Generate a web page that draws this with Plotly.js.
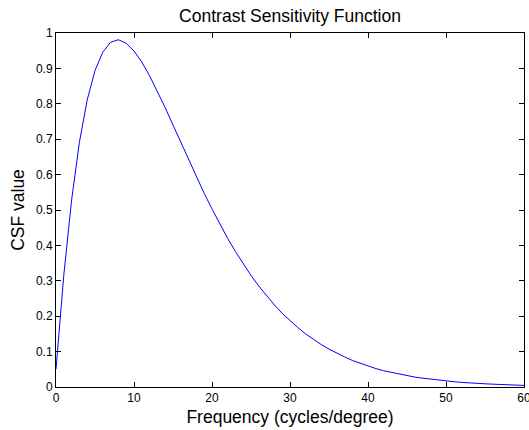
<!DOCTYPE html>
<html>
<head>
<meta charset="utf-8">
<script src="https://cdn.plot.ly/plotly-3.0.1.min.js"></script>
<style>html,body{margin:0;padding:0;background:#fff;}#chart{width:529px;height:430px;}</style>
</head>
<body>
<div id="chart"></div>
<script>
// Frequency samples (cycles/degree)
var frequency = [0,1,2,3,4,5,6,7,8,9,10,11,12,13,14,15,16,17,18,19,20,
  21,22,23,24,25,26,27,28,29,30,31,32,33,34,35,36,37,38,39,40,
  41,42,43,44,45,46,47,48,49,50,51,52,53,54,55,56,57,58,59,60];
// CSF values
var csfValue = [0.050,0.316,0.528,0.691,0.811,0.894,0.946,0.974,0.981,0.971,0.949,
  0.918,0.879,0.836,0.789,0.740,0.691,0.642,0.594,0.547,0.503,
  0.460,0.420,0.383,0.348,0.315,0.285,0.257,0.232,0.208,0.187,
  0.168,0.150,0.134,0.120,0.107,0.095,0.085,0.075,0.067,0.059,
  0.052,0.046,0.041,0.036,0.032,0.028,0.025,0.022,0.019,0.017,
  0.015,0.013,0.011,0.010,0.009,0.008,0.007,0.006,0.005,0.0045];
var xTicks = [0,10,20,30,40,50,60];
var yTicks = [0,0.1,0.2,0.3,0.4,0.5,0.6,0.7,0.8,0.9,1];
var yTickText = ['0','0.1','0.2','0.3','0.4','0.5','0.6','0.7','0.8','0.9','1'];

var fontFam = 'Liberation Sans, Arial, Helvetica, sans-serif';
var trace = {
  x: frequency, y: csfValue, type: 'scatter', mode: 'lines',
  line: {color: '#0000ff', width: 1}, hoverinfo: 'skip'
};
var axisCommon = {
  showgrid: false, zeroline: false, showline: true, linecolor: '#000', linewidth: 1,
  mirror: 'ticks', ticks: 'inside', ticklen: 5, tickwidth: 1, tickcolor: '#000',
  tickfont: {family: fontFam, size: 12, color: '#000'}, automargin: false,
  ticklabeloverflow: 'allow'
};
var layout = {
  width: 529, height: 430,
  paper_bgcolor: '#fff', plot_bgcolor: '#fff',
  margin: {l: 56, r: 4.5, t: 32.5, b: 43.3},
  showlegend: false,
  title: {text: 'Contrast Sensitivity Function', font: {family: fontFam, size: 17.5, color: '#000'},
          x: 0.5, xref: 'paper', xanchor: 'center', y: 1 - 16/430, yref: 'container', yanchor: 'middle'},
  xaxis: Object.assign({}, axisCommon, {
    range: [0, 60], tickvals: xTicks, ticktext: xTicks.map(String),
    title: {text: 'Frequency (cycles/degree)', font: {family: fontFam, size: 17.5, color: '#000'}, standoff: 6}
  }),
  yaxis: Object.assign({}, axisCommon, {
    range: [0, 1], tickvals: yTicks, ticktext: yTickText,
    title: {text: 'CSF value', font: {family: fontFam, size: 17.5, color: '#000'}, standoff: 6}
  })
};
Plotly.newPlot('chart', [trace], layout, {staticPlot: true, displayModeBar: false});
</script>
</body>
</html>
